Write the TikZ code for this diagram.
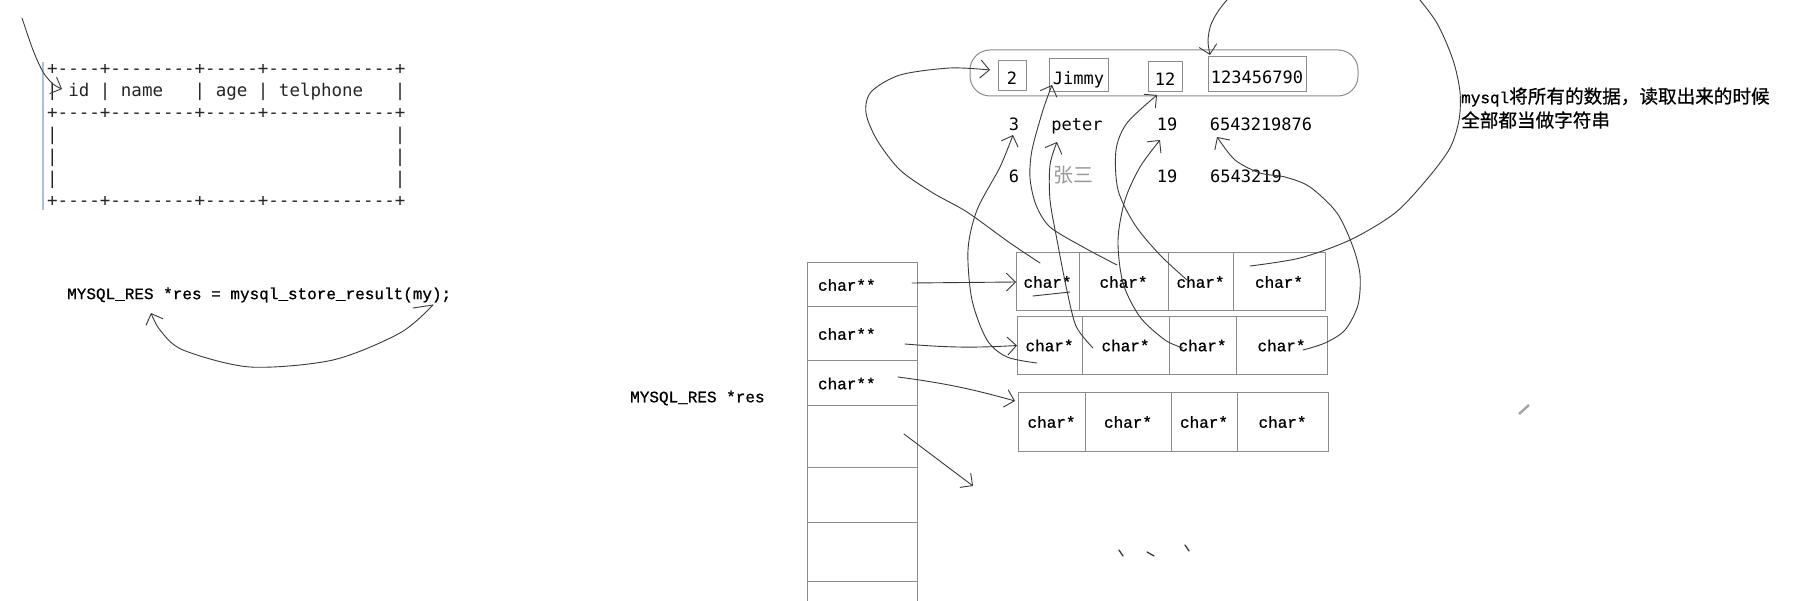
\documentclass[tikz,border=0pt]{standalone}
\usepackage{fontspec}
\newfontfamily\codefont{Liberation Mono}[Ligatures=TeXOff, FakeBold=0.8]
\newfontfamily\termfont{DejaVu Sans Mono}[Ligatures=TeXOff]
\newfontfamily\cjkfont{Noto Sans CJK SC}[FakeBold=0.8]
\newfontfamily\cjklight{Noto Sans CJK SC}
\usepackage{tikz}
\usetikzlibrary{positioning, arrows.meta}

\begin{document}
\begin{tikzpicture}[
    x=1pt, y=-1pt,
    >={Straight Barb[length=9pt,width=18pt]},
]
% -- Colours --
\definecolor{ink}{HTML}{3A3A3A}
\definecolor{boxline}{HTML}{8C8C8C}
\definecolor{selbar}{HTML}{A9BFDB}
\definecolor{fadetext}{HTML}{9A9A9A}

% -- Styles --
\tikzset{
    pen/.style={draw=ink, line width=0.9pt, line cap=round, line join=round},
    asciirow/.style={anchor=base west, inner sep=0pt,
        font=\termfont\fontsize{17.5}{17.5}\selectfont, text=black!85},
    codetext/.style={anchor=west, inner sep=0pt,
        font=\codefont\fontsize{16}{16}\selectfont},
    ptrcell/.style={draw=boxline, line width=1pt, outer sep=0pt,
        inner xsep=11pt, inner ysep=0pt, text width=88pt, align=left,
        font=\codefont\fontsize{16}{16}\selectfont},
    strcell/.style={draw=boxline, line width=1pt, outer sep=0pt,
        inner sep=0pt, minimum height=58pt,
        font=\codefont\fontsize{16}{16}\selectfont},
    valbox/.style={draw=boxline, line width=1pt, inner sep=0pt,
        text height=18pt, text depth=0pt,
        font=\termfont\fontsize{17}{17}\selectfont},
    valtext/.style={inner sep=0pt, text height=12.5pt, text depth=0pt,
        font=\termfont\fontsize{17}{17}\selectfont},
    note/.style={anchor=west, inner sep=0pt,
        font=\cjkfont\fontsize{18.6}{18.6}\selectfont},
}

\useasboundingbox (0,0) rectangle (1794,601);
\clip (0,0) rectangle (1794,601);
\fill[white] (0,0) rectangle (1794,601);

% -- Result table (mysql client output) --
\draw[selbar, line width=1.5pt] (43,62) -- (43,210);
\node[asciirow] (tl1) at (47,75) {+----+--------+-----+------------+};
\node[asciirow] (tl2) at (47,97) {|~id~|~name~~~|~age~|~telphone~~~|};
\node[asciirow] (tl3) at (47,119) {+----+--------+-----+------------+};
\node[asciirow] (tl4) at (47,141) {|~~~~~~~~~~~~~~~~~~~~~~~~~~~~~~~~|};
\node[asciirow] (tl5) at (47,163) {|~~~~~~~~~~~~~~~~~~~~~~~~~~~~~~~~|};
\node[asciirow] (tl6) at (47,185) {|~~~~~~~~~~~~~~~~~~~~~~~~~~~~~~~~|};
\node[asciirow] (tl7) at (47,207) {+----+--------+-----+------------+};

\coordinate (penstart) at (22,18);
\draw[pen,->] plot[smooth] coordinates {(penstart) (33,50) (43,72) (53,84)
    ([shift={(15,-8)}]tl2.base west)};

% -- Statement --
\node[codetext] (stmt) at (67,295) {MYSQL\_RES *res = mysql\_store\_result(my);};
\draw[pen] ([shift={(346,13)}]stmt.west) -- ([shift={(366,10)}]stmt.west);
\draw[pen,->] plot[smooth] coordinates {([shift={(366,10)}]stmt.west)
    (400,333) (333,360) (250,367) (183,350) (160,330)
    ([shift={(84,18)}]stmt.west)};

% -- Pointer column --
\node[codetext] (resvar) at (630,398) {MYSQL\_RES *res};
\node[ptrcell, minimum height=44pt] (p1) at (862,285) {char**};
\node[ptrcell, minimum height=54pt, below=0pt of p1] (p2) {char**};
\node[ptrcell, minimum height=45pt, below=0pt of p2] (p3) {char**};
\node[ptrcell, minimum height=61pt, below=0pt of p3] (p4) {};
\node[ptrcell, minimum height=55pt, below=0pt of p4] (p5) {};
\node[ptrcell, minimum height=59pt, below=0pt of p5] (p6) {};
\node[ptrcell, minimum height=60pt, below=0pt of p6] (p7) {};

% -- Rows of char* --
\node[strcell, minimum width=63pt] (c11) at (1047.5,282) {char*};
\node[strcell, minimum width=89pt, right=0pt of c11] (c12) {char*};
\node[strcell, minimum width=65pt, right=0pt of c12] (c13) {char*};
\node[strcell, minimum width=92pt, right=0pt of c13] (c14) {char*};

\node[strcell, minimum width=65pt] (c21) at (1049.5,345.5) {char*};
\node[strcell, minimum width=87pt, right=0pt of c21] (c22) {char*};
\node[strcell, minimum width=67pt, right=0pt of c22] (c23) {char*};
\node[strcell, minimum width=91pt, right=0pt of c23] (c24) {char*};

\node[strcell, minimum width=67pt] (c31) at (1051.5,422) {char*};
\node[strcell, minimum width=86pt, right=0pt of c31] (c32) {char*};
\node[strcell, minimum width=66pt, right=0pt of c32] (c33) {char*};
\node[strcell, minimum width=91pt, right=0pt of c33] (c34) {char*};

\draw[pen,->] ([shift={(-5,-2)}]p1.east) -- (c11.west);
\draw[pen,->] ([shift={(-12,10)}]p2.east) to[bend right=4] (c21.west);
\draw[pen,->] ([shift={(-19,-6.5)}]p3.east) to[bend left=4] ([shift={(-3,-21)}]c31.west);
\coordinate (p4tip) at (973,486);
\draw[pen,->] ([shift={(-13,-2.5)}]p4.east) -- (p4tip);

% -- Data read from the server --
\node[draw=boxline, line width=1pt, rounded corners=20pt,
      minimum width=388pt, minimum height=46pt] (rowbox) at (1164,73) {};
\node[valbox, minimum width=28pt, minimum height=30pt] (v2) at (1012,76) {2};
\node[valbox, minimum width=59pt, minimum height=33pt] (vjim) at (1078.5,75.5) {Jimmy};
\node[valbox, minimum width=34pt, minimum height=30pt] (v12) at (1165,77) {12};
\node[valbox, minimum width=98pt, minimum height=35pt] (vtel) at (1257,74.5) {123456790};

\node[valtext] (t3) at (1014,124) {3};
\node[valtext] (tpeter) at (1077,124) {peter};
\node[valtext] (t19a) at (1167,124) {19};
\node[valtext] (ttel2) at (1261,124) {6543219876};
\node[valtext] (t6) at (1014,176) {6};
\node[valtext, font=\cjklight\fontsize{20}{20}\selectfont, text=fadetext] (tzs) at (1073,176) {张三};
\node[valtext] (t19b) at (1167,176) {19};
\node[valtext] (ttel3) at (1246,176) {6543219};

\node[note] (note1) at (1461,97) {{\codefont\fontsize{16}{16}\selectfont mysql}将所有的数据，读取出来的时候};
\node[note] (note2) at (1461,120) {全部都当做字符串};

% -- Hand-drawn links: char* -> value --
\draw[pen,->] plot[smooth] coordinates {([shift={(-7.5,-19)}]c11.center)
    (1010,243) (967,212) (933,193) (900,170) (877,140) (866,113) (871,92)
    (900,75) (950,68) ([shift={(-22,-6)}]v2.center)};
\draw[pen] ([shift={(-14.5,14)}]c11.center) -- ([shift={(22.5,10)}]c11.center);
\draw[pen,->] plot[smooth] coordinates {([shift={(-6.5,-17)}]c12.center)
    (1083,247) (1050,227) (1036,205) (1030,178) (1032,150) (1043,110)
    ([shift={(-26.5,9.5)}]vjim.center)};
\draw[pen,->] plot[smooth] coordinates {([shift={(-13.5,-2)}]c13.center)
    (1160,255) (1135,225) (1118,190) (1116,150) (1127,123)
    ([shift={(-8,18)}]v12.center)};
\draw[pen,->] plot[smooth] coordinates {([shift={(-29,-16)}]c14.center)
    (1300,258) (1350,240) (1395,213) (1428,178) (1450,148) (1459,120)
    (1460,92) (1453,60) (1438,25) (1420,0) (1395,-30) (1330,-52) (1265,-35)
    (1227,0) (1212,22) (1208,40) ([shift={(-47,-19.5)}]vtel.center)};

\draw[pen,->] plot[smooth] coordinates {([shift={(-12.5,17.5)}]c21.center)
    (1007,357) (987,340) (972,300) (968,250) (977,210) (1000,167)
    ([shift={(-1,11)}]t3.center)};
\draw[pen,->] plot[smooth] coordinates {([shift={(-32.5,2.5)}]c22.center)
    (1076,326) (1066,286) (1057,240) (1050,200) (1050,165)
    ([shift={(-20,18)}]tpeter.center)};
\draw[pen,->] plot[smooth] coordinates {([shift={(-19.5,2.5)}]c23.center)
    (1165,340) (1140,317) (1123,283) (1118,240) (1125,200) (1140,167)
    ([shift={(-7,16)}]t19a.center)};
\draw[pen,->] plot[smooth] coordinates {([shift={(21.5,4.5)}]c24.center)
    (1325,343) (1345,330) (1358,305) (1360,275) (1353,247) (1337,213)
    (1310,187) (1285,177) (1260,173) (1235,160)
    ([shift={(-44,13)}]ttel2.center)};

% -- Stray pen marks --
\draw[pen, line width=1.3pt] (1119,550) -- (1123,556);
\draw[pen, line width=1.3pt] (1147,552) -- (1154,556);
\draw[pen, line width=1.3pt] (1185,545) -- (1189,551);
\draw[gray!70, line width=2.5pt] (1519,414) -- (1529,405);

\end{tikzpicture}
\end{document}
